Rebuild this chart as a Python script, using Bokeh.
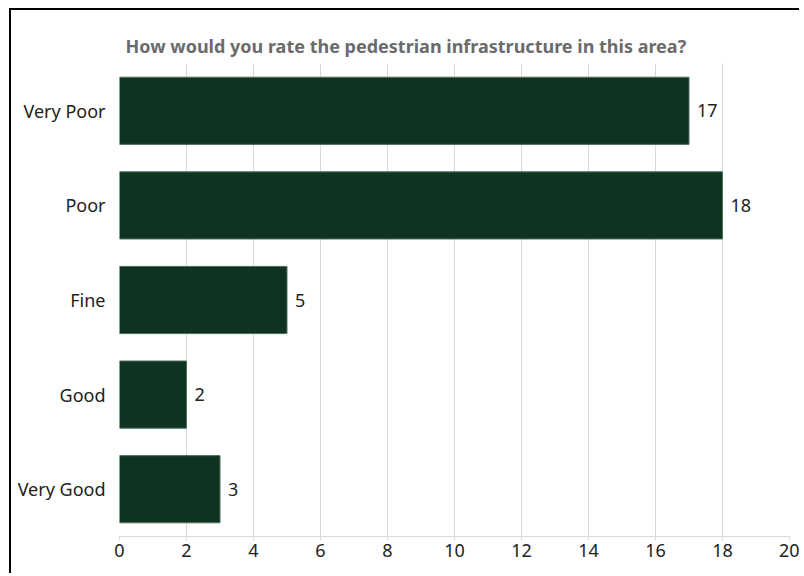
from bokeh.plotting import figure
from bokeh.models import FactorRange, Range1d, ColumnDataSource, FixedTicker, Title
from bokeh.core.properties import value
from bokeh.embed import file_html
from bokeh.resources import INLINE

categories = ["Very Poor", "Poor", "Fine", "Good", "Very Good"]
counts = [17, 18, 5, 2, 3]
x_ticks = [0, 2, 4, 6, 8, 10, 12, 14, 16, 18, 20]

FONT = "Noto Sans"

src = ColumnDataSource(dict(cat=categories, val=counts, lab=[str(v) for v in counts]))

p = figure(width=790, height=565, output_backend="svg", toolbar_location=None,
           y_range=FactorRange(factors=list(reversed(categories)), range_padding=0),
           x_range=Range1d(0, 20),
           min_border_left=108, min_border_right=12, min_border_top=53, min_border_bottom=39)
p.styles = {"margin-left": "9px", "margin-top": "8px",
            "border-left": "2px solid black", "border-top": "2px solid black"}

p.title = Title(text="How would you rate the pedestrian infrastructure in this area?",
                align="left", offset=6, text_font=FONT, text_font_size="18px",
                text_font_style="bold", text_color="#6b6b6b", standoff=12)

p.hbar(y="cat", right="val", left=0, height=0.71, source=src,
       fill_color="#0e3320", line_color="#4f6f5c", line_width=1)

p.text(x="val", y="cat", text="lab", source=src, x_offset=8,
       text_baseline="middle", text_align="left",
       text_font=value(FONT), text_font_size="18px", text_color="#222222")

p.outline_line_color = None
p.background_fill_color = "white"
p.border_fill_color = "white"

p.xaxis.ticker = FixedTicker(ticks=x_ticks)
p.xaxis.axis_line_color = "#d9d9d9"
p.xaxis.major_tick_line_color = "#d9d9d9"
p.xaxis.major_tick_in = 0
p.xaxis.major_tick_out = 4
p.xaxis.minor_tick_line_color = None
p.xaxis.major_label_text_font = FONT
p.xaxis.major_label_text_font_size = "18px"
p.xaxis.major_label_text_color = "#222222"
p.xaxis.major_label_standoff = 3

p.yaxis.axis_line_color = None
p.yaxis.major_tick_line_color = None
p.yaxis.major_label_text_font = FONT
p.yaxis.major_label_text_font_size = "18px"
p.yaxis.major_label_text_color = "#222222"
p.yaxis.major_label_standoff = 8

p.xgrid.grid_line_color = "#d9d9d9"
p.xgrid.ticker = FixedTicker(ticks=x_ticks)
p.ygrid.grid_line_color = None

open("out.html", "w").write(file_html(p, INLINE))
